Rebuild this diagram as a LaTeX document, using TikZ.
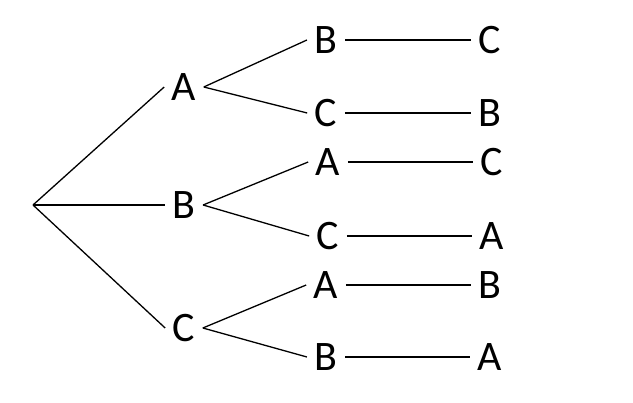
\documentclass[tikz,border=0pt]{standalone}
\usepackage{fontspec}
\setmainfont{Carlito}
\begin{document}
\begin{tikzpicture}[x=1pt,y=-1pt,line width=1.3pt,
  lbl/.style={inner xsep=7pt,inner ysep=2pt,font=\fontsize{42}{50}\selectfont}]
\useasboundingbox (0,0) rectangle (633,403);
\coordinate (r) at (33,205);

\node[lbl] (a) at (184,87) {A};
\node[lbl] (b) at (184,205) {B};
\node[lbl] (c) at (184,328) {C};

\node[lbl] (ab) at (326,40) {B};
\node[lbl] (ac) at (326,113) {C};
\node[lbl] (ba) at (328,162) {A};
\node[lbl] (bc) at (328,236) {C};
\node[lbl] (ca) at (326,285) {A};
\node[lbl] (cb) at (326,357) {B};

\node[lbl] (abc) at (490,40) {C};
\node[lbl] (acb) at (490,113) {B};
\node[lbl] (bac) at (492,162) {C};
\node[lbl] (bca) at (492,236) {A};
\node[lbl] (cab) at (490,285) {B};
\node[lbl] (cba) at (490,357) {A};

\draw (r) -- (a.west);
\draw (r) -- (b.west);
\draw (r) -- (c.west);

\draw (a.east) -- (ab.west);
\draw (a.east) -- (ac.west);
\draw (b.east) -- (ba.west);
\draw (b.east) -- (bc.west);
\draw (c.east) -- (ca.west);
\draw (c.east) -- (cb.west);

\draw (ab.east) -- (abc.west);
\draw (ac.east) -- (acb.west);
\draw (ba.east) -- (bac.west);
\draw (bc.east) -- (bca.west);
\draw (ca.east) -- (cab.west);
\draw (cb.east) -- (cba.west);
\end{tikzpicture}
\end{document}
